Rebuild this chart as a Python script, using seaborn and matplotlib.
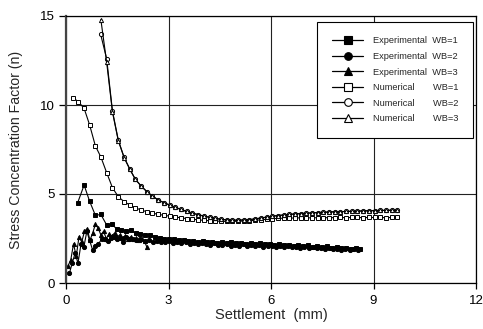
import matplotlib
matplotlib.use("Agg")
import matplotlib.pyplot as plt
from matplotlib.lines import Line2D
import seaborn as sns

# ---------------- data ----------------
exp1_x = [0.34, 0.53, 0.69, 0.86, 1.02, 1.19, 1.34, 1.48, 1.62, 1.76, 1.9, 2.04, 2.18, 2.32, 2.46,
          2.6, 2.74, 2.88, 3.02, 3.16, 3.3, 3.44, 3.58, 3.72, 3.86, 4.0, 4.14, 4.28, 4.42, 4.56,
          4.7, 4.84, 4.98, 5.12, 5.26, 5.4, 5.54, 5.68, 5.82, 5.96, 6.1, 6.24, 6.38, 6.52, 6.66,
          6.8, 6.94, 7.08, 7.22, 7.36, 7.5, 7.64, 7.78, 7.92, 8.06, 8.2, 8.34, 8.48, 8.6]
exp1_y = [4.5, 5.5, 4.6, 3.8, 3.85, 3.26, 3.3, 3.05, 3.0, 2.9, 2.95, 2.8, 2.75, 2.7, 2.72,
          2.6, 2.55, 2.5, 2.45, 2.48, 2.4, 2.42, 2.35, 2.38, 2.33, 2.36, 2.3, 2.32, 2.27, 2.3,
          2.25, 2.28, 2.22, 2.25, 2.2, 2.24, 2.18, 2.22, 2.17, 2.2, 2.15, 2.18, 2.13, 2.16, 2.1,
          2.14, 2.08, 2.11, 2.05, 2.09, 2.02, 2.06, 1.99, 2.03, 1.96, 1.99, 1.93, 1.95, 1.9]

exp2_x = [0.1, 0.18, 0.27, 0.35, 0.44, 0.52, 0.61, 0.69, 0.78, 0.86, 0.95,
          1.04, 1.13, 1.22, 1.31, 1.4, 1.49, 1.58, 1.67, 1.76, 1.85, 1.94,
          2.06, 2.18, 2.3, 2.42, 2.54, 2.66, 2.78, 2.9, 3.02, 3.14,
          3.26, 3.38, 3.5, 3.62, 3.74, 3.86, 3.98, 4.1, 4.22, 4.34,
          4.46, 4.58, 4.7, 4.82, 4.94, 5.06, 5.18, 5.3, 5.42, 5.54,
          5.66, 5.78, 5.9, 6.02, 6.14, 6.26, 6.38, 6.5, 6.62, 6.74,
          6.86, 6.98, 7.1, 7.22, 7.34, 7.46, 7.58, 7.7, 7.82, 7.94,
          8.06, 8.18, 8.3, 8.42, 8.54]
exp2_y = [0.55, 1.1, 1.7, 1.1, 2.2, 2.0, 2.9, 2.4, 1.85, 2.1, 2.2,
          2.45, 2.5, 2.35, 2.55, 2.6, 2.5, 2.55, 2.3, 2.6, 2.5, 2.45,
          2.4, 2.45, 2.35, 2.4, 2.3, 2.38, 2.32, 2.28, 2.35, 2.25,
          2.3, 2.22, 2.28, 2.2, 2.26, 2.18, 2.24, 2.2, 2.15, 2.22,
          2.16, 2.12, 2.2, 2.1, 2.15, 2.08, 2.18, 2.1, 2.14, 2.06,
          2.12, 2.05, 2.1, 2.08, 2.04, 2.1, 2.02, 2.06, 2.0, 2.05,
          1.98, 2.03, 1.96, 2.0, 1.94, 1.98, 1.92, 1.96, 1.9, 1.93,
          1.88, 1.92, 1.86, 1.9, 1.85]

exp3_x = [0.06, 0.14, 0.22, 0.3, 0.38, 0.46, 0.54, 0.62, 0.7, 0.78, 0.86, 0.94, 1.02, 1.1, 1.18,
          1.26, 1.34, 1.42, 1.5, 1.58, 1.66, 1.74, 1.82, 1.9, 1.98, 2.06, 2.14, 2.22, 2.3, 2.36]
exp3_y = [0.97, 1.3, 2.2, 1.5, 2.6, 2.3, 2.9, 3.05, 2.4, 2.8, 3.3, 3.1, 2.7, 2.9, 2.5,
          2.75, 2.65, 2.8, 2.6, 2.7, 2.55, 2.65, 2.5, 2.6, 2.45, 2.55, 2.4, 2.5, 2.35, 2.04]

num1_x = [0.2, 0.36, 0.53, 0.69, 0.86, 1.02, 1.19, 1.36, 1.53, 1.7, 1.87, 2.03, 2.2, 2.37, 2.53,
          2.7, 2.87, 3.03, 3.2, 3.37, 3.53, 3.7, 3.87, 4.03, 4.2, 4.37, 4.53, 4.7, 4.87, 5.03,
          5.2, 5.37, 5.53, 5.7, 5.87, 6.03, 6.2, 6.37, 6.53, 6.7, 6.87, 7.03, 7.2, 7.37, 7.53,
          7.7, 7.87, 8.03, 8.2, 8.37, 8.53, 8.7, 8.87, 9.03, 9.2, 9.37, 9.53, 9.7]
num1_y = [10.41, 10.19, 9.81, 8.89, 7.7, 7.08, 6.2, 5.35, 4.85, 4.57, 4.38, 4.22, 4.1, 4.0, 3.92,
          3.86, 3.8, 3.76, 3.71, 3.66, 3.62, 3.58, 3.55, 3.52, 3.5, 3.48, 3.47, 3.46, 3.46, 3.47,
          3.48, 3.5, 3.52, 3.55, 3.58, 3.61, 3.63, 3.64, 3.65, 3.65, 3.66, 3.66, 3.66, 3.67, 3.67,
          3.67, 3.67, 3.68, 3.67, 3.68, 3.68, 3.67, 3.68, 3.68, 3.68, 3.67, 3.68, 3.68]

num2_x = [1.01, 1.19, 1.36, 1.53, 1.7, 1.87, 2.03, 2.2, 2.37, 2.53,
          2.7, 2.87, 3.03, 3.2, 3.37, 3.53, 3.7, 3.87, 4.03, 4.2,
          4.37, 4.53, 4.7, 4.87, 5.03, 5.2, 5.37, 5.53, 5.7, 5.87,
          6.03, 6.2, 6.37, 6.53, 6.7, 6.87, 7.03, 7.2, 7.37, 7.53,
          7.7, 7.87, 8.03, 8.2, 8.37, 8.53, 8.7, 8.87, 9.03, 9.2,
          9.37, 9.53, 9.7]
num2_y = [14.0, 12.6, 9.66, 8.03, 7.06, 6.39, 5.83, 5.45, 5.13, 4.89,
          4.66, 4.51, 4.38, 4.25, 4.13, 4.02, 3.92, 3.84, 3.76, 3.69,
          3.63, 3.58, 3.55, 3.53, 3.53, 3.54, 3.56, 3.6, 3.65, 3.7,
          3.75, 3.79, 3.82, 3.85, 3.88, 3.9, 3.92, 3.94, 3.96, 3.97,
          3.99, 4.0, 4.01, 4.02, 4.03, 4.04, 4.05, 4.06, 4.07, 4.08,
          4.08, 4.09, 4.1]

num3_x = [1.02, 1.19, 1.36, 1.53, 1.7, 1.87, 2.03, 2.2, 2.37, 2.53,
          2.7, 2.87, 3.03, 3.2, 3.37, 3.53, 3.7, 3.87, 4.03, 4.2,
          4.37, 4.53, 4.7, 4.87, 5.03, 5.2, 5.37, 5.53, 5.7, 5.87,
          6.03, 6.2, 6.37, 6.53, 6.7, 6.87, 7.03, 7.2, 7.37, 7.53,
          7.7, 7.87, 8.03, 8.2, 8.37, 8.53, 8.7, 8.87, 9.03, 9.2,
          9.37, 9.53, 9.7]
num3_y = [14.8, 12.4, 9.6, 8.0, 7.05, 6.38, 5.82, 5.44, 5.12, 4.88,
          4.66, 4.51, 4.38, 4.25, 4.13, 4.02, 3.92, 3.84, 3.76, 3.69,
          3.63, 3.58, 3.55, 3.53, 3.53, 3.54, 3.56, 3.6, 3.65, 3.7,
          3.75, 3.79, 3.82, 3.85, 3.88, 3.9, 3.92, 3.94, 3.96, 3.97,
          3.99, 4.0, 4.01, 4.02, 4.03, 4.04, 4.05, 4.06, 4.07, 4.08,
          4.08, 4.09, 4.1]

legend_labels = ["Experimental  WB=1", "Experimental  WB=2", "Experimental  WB=3",
                 "Numerical       WB=1", "Numerical       WB=2", "Numerical       WB=3"]
x_ticks = [0, 3, 6, 9, 12]
y_ticks = [0, 5, 10, 15]

# ---------------- style ----------------
sns.set_style("white")
plt.rcParams["font.family"] = ["Liberation Sans", "DejaVu Sans"]

fig = plt.figure(figsize=(4.83, 3.29), dpi=100)
ax = fig.add_axes([66 / 483, 46 / 329, 410 / 483, 267 / 329])

series = [
    (exp1_x, exp1_y, "s", "black"),
    (exp2_x, exp2_y, "o", "black"),
    (exp3_x, exp3_y, "^", "black"),
    (num1_x, num1_y, "s", "white"),
    (num2_x, num2_y, "o", "white"),
    (num3_x, num3_y, "^", "white"),
]
for xs, ys, mk, face in series:
    sns.lineplot(x=xs, y=ys, ax=ax, sort=False, estimator=None, color="black",
                 lw=0.8, marker=mk, markersize=3.0, markerfacecolor=face,
                 markeredgecolor="black", markeredgewidth=0.7, legend=False)

ax.set_xlim(0, 12)
ax.set_ylim(0, 15)
ax.set_xticks(x_ticks)
ax.set_yticks(y_ticks)
ax.grid(True, color="#222222", lw=0.8)
ax.set_axisbelow(True)
for s in ax.spines.values():
    s.set_color("black")
    s.set_linewidth(0.9)
ax.spines["left"].set_color("#444444")
ax.spines["left"].set_linewidth(1.6)

ax.tick_params(axis="x", direction="out", length=4.5, width=0.9, labelsize=9.5,
               colors="black", pad=4, bottom=True)
ax.tick_params(axis="y", direction="out", length=5, width=0.9, labelsize=9.5,
               colors="black", pad=3, left=True)
ax.set_xlabel("Settlement  (mm)", fontsize=10.5, labelpad=1)
ax.set_ylabel("Stress Concentration Factor (n)", fontsize=10.2, labelpad=12)

handles = []
for (xs, ys, mk, face), lab in zip(series, legend_labels):
    handles.append(Line2D([0], [0], color="black", lw=0.9, marker=mk, markersize=5.5,
                          markerfacecolor=face, markeredgecolor="black",
                          markeredgewidth=0.8, label=lab))
leg = ax.legend(handles=handles, loc="upper right", bbox_to_anchor=(0.993, 0.979),
                borderaxespad=0, fontsize=6.7, frameon=True, fancybox=False,
                edgecolor="black", framealpha=1, handlelength=3.4, handletextpad=1.0,
                labelspacing=0.7, borderpad=1.6)
leg.get_frame().set_linewidth(0.8)

fig.savefig("out.png", dpi=100)
